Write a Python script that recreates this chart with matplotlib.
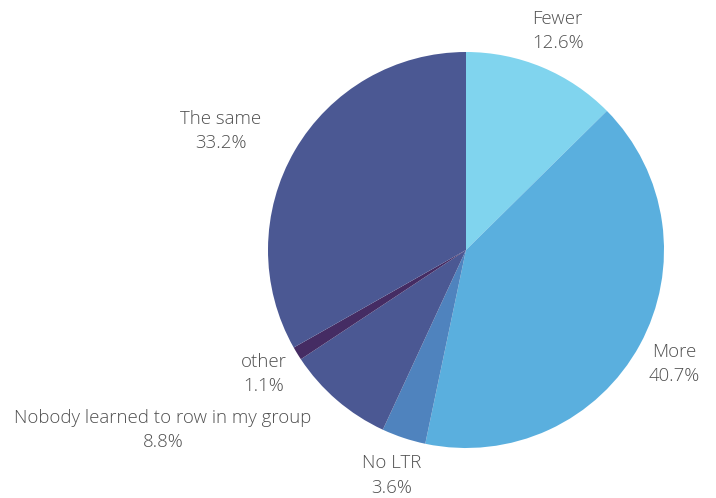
import matplotlib
matplotlib.use("Agg")
import matplotlib.pyplot as plt
import numpy as np

plt.rcParams["font.family"] = ["Open Sans", "DejaVu Sans"]

labels = ["Fewer", "More", "No LTR", "Nobody learned to row in my group", "other", "The same"]
shares = [12.6, 40.7, 3.6, 8.8, 1.1, 33.2]
colors = ["#80d4ee", "#5aafde", "#4f83be", "#4b5893", "#452c63", "#4b5893"]

W, H = 716, 498
cx, cy, r = 466, 250, 198

fig = plt.figure(figsize=(W / 100, H / 100), dpi=100)
ax = fig.add_axes([(cx - r) / W, (H - cy - r) / H, 2 * r / W, 2 * r / H])

wedges, texts = ax.pie(
    shares,
    colors=colors,
    startangle=90,
    counterclock=False,
    labels=[f"{n}\n{v}%" for n, v in zip(labels, shares)],
    labeldistance=1.2,
    wedgeprops=dict(linewidth=0),
    textprops=dict(fontsize=13.4, color="#505050", ha="center", va="center",
                   fontweight="light", linespacing=1.45),
)
for t in texts:
    t.set_horizontalalignment("center")

# crowded labels on the left get pushed outward
texts[3].set_position((-1.53, -0.91))
texts[5].set_position((-1.24, 0.60))

ax.set_xlim(-1, 1)
ax.set_ylim(-1, 1)
ax.set_aspect("equal")
ax.axis("off")

fig.savefig("out.png", dpi=100)
